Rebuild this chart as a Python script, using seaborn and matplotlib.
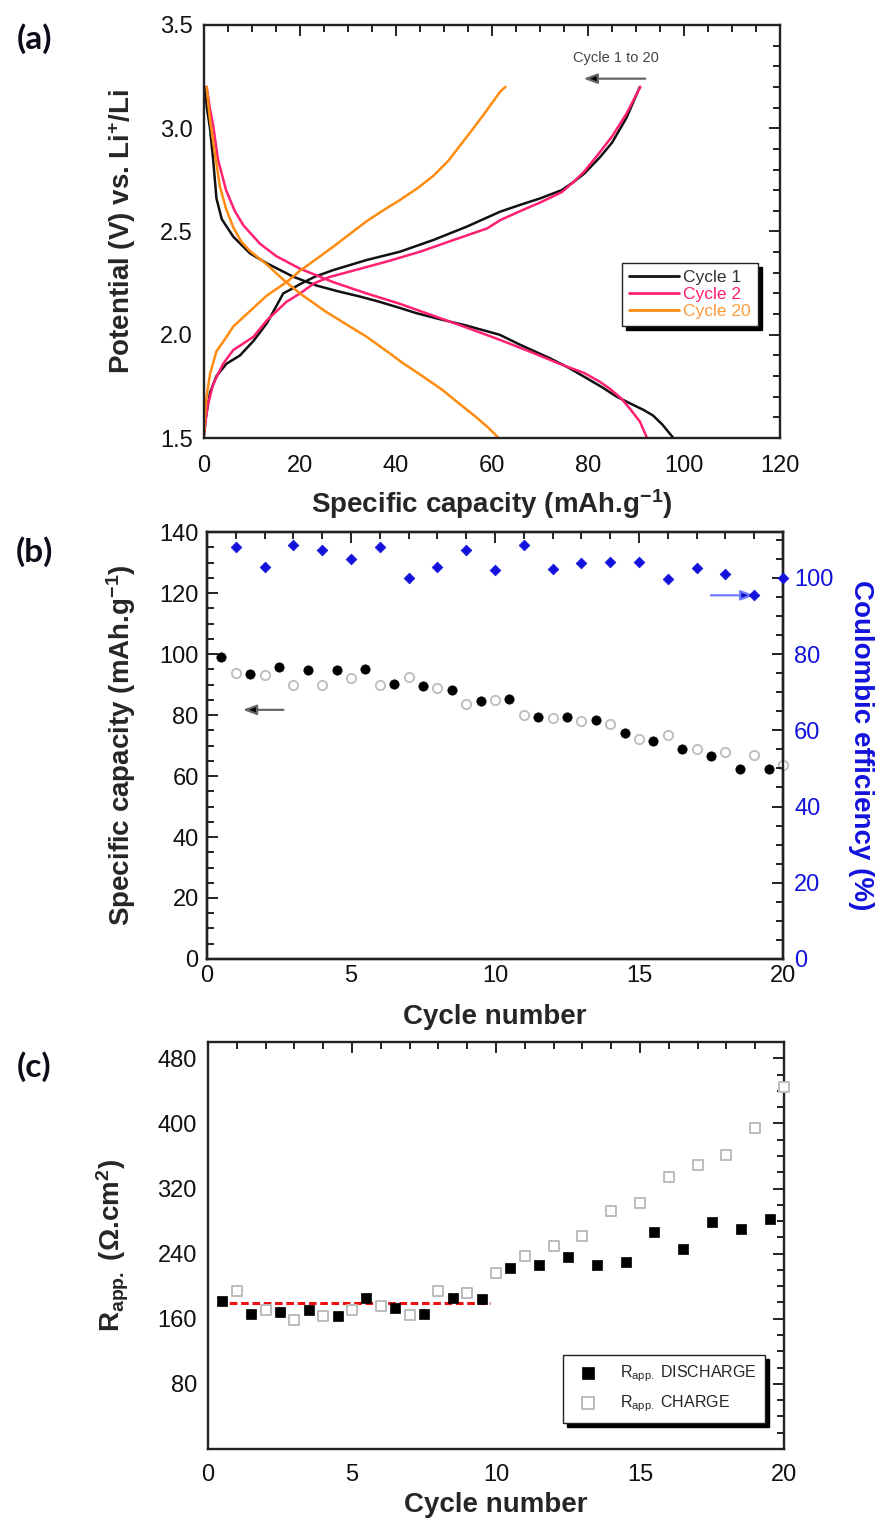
import matplotlib
matplotlib.use("Agg")
import matplotlib.pyplot as plt
from matplotlib.ticker import MultipleLocator
import seaborn as sns

# ===================== (a) charge / discharge curves =====================
c1_dis_cap = [0.2, 0.6, 1.25, 1.9, 2.6, 3.7, 6.1, 9.6, 13.1, 18.6, 23.5, 28.0, 32.5, 36.5, 40.8, 44.2,
              49.2, 54.6, 61.6, 66.0, 72.0, 76.0, 79.7, 83.0, 86.0, 89.0, 91.5, 93.5, 95.5, 97.8]
c1_dis_v = [3.20, 3.10, 3.00, 2.85, 2.66, 2.56, 2.475, 2.394, 2.346, 2.281, 2.238, 2.21, 2.185, 2.16, 2.13, 2.105,
            2.075, 2.045, 2.00, 1.95, 1.887, 1.84, 1.79, 1.745, 1.70, 1.665, 1.637, 1.61, 1.565, 1.50]
c1_chg_cap = [0.0, 0.4, 1.25, 2.6, 4.7, 7.5, 10.3, 13.1, 15.1, 16.5, 18.5, 20.0, 23.0, 26.9, 33.9, 40.8,
              47.8, 54.7, 61.7, 66.0, 70.0, 74.5, 77.0, 79.2, 82.5, 85.0, 88.0, 90.8]
c1_chg_v = [1.51, 1.60, 1.72, 1.80, 1.86, 1.90, 1.97, 2.056, 2.14, 2.20, 2.225, 2.245, 2.28, 2.313, 2.362, 2.402,
            2.459, 2.523, 2.596, 2.63, 2.66, 2.70, 2.74, 2.78, 2.86, 2.93, 3.05, 3.20]

c2_dis_cap = [0.55, 1.2, 1.94, 2.9, 4.6, 6.4, 8.2, 11.7, 15.1, 20.0, 26.9, 33.9, 40.8, 47.8, 54.7, 61.7, 68.8,
              74.0, 79.2, 82.5, 84.7, 87.0, 88.9, 90.8, 92.3]
c2_dis_v = [3.20, 3.10, 3.01, 2.85, 2.70, 2.60, 2.53, 2.44, 2.38, 2.32, 2.255, 2.20, 2.15, 2.092, 2.035, 1.975, 1.91,
            1.86, 1.815, 1.772, 1.736, 1.69, 1.637, 1.58, 1.50]
c2_chg_cap = [0.0, 0.7, 1.9, 4.0, 6.1, 10.3, 13.1, 17.2, 20.0, 23.0, 26.2, 31.0, 38.0, 45.0, 52.0, 59.0,
              61.7, 66.0, 70.0, 74.5, 77.0, 79.2, 82.0, 85.0, 88.0, 90.9]
c2_chg_v = [1.52, 1.65, 1.76, 1.86, 1.926, 1.99, 2.07, 2.16, 2.20, 2.25, 2.28, 2.31, 2.354, 2.402, 2.459, 2.515,
            2.555, 2.60, 2.64, 2.69, 2.74, 2.79, 2.87, 2.96, 3.07, 3.20]

c20_dis_cap = [0.55, 1.2, 1.94, 3.3, 4.6, 6.1, 7.8, 9.6, 13.1, 16.6, 20.0, 25.5, 30.4, 33.9, 38.7, 41.3, 45.5,
               49.6, 53.0, 56.5, 59.0, 61.4]
c20_dis_v = [3.20, 3.05, 2.93, 2.72, 2.61, 2.52, 2.45, 2.405, 2.34, 2.265, 2.20, 2.11, 2.04, 1.99, 1.91, 1.865, 1.80,
             1.734, 1.67, 1.605, 1.555, 1.50]
c20_chg_cap = [0.0, 0.4, 1.25, 2.6, 4.7, 6.1, 10.3, 13.1, 17.2, 20.0, 23.0, 26.9, 30.5, 33.9, 37.5, 40.8,
               44.5, 47.8, 51.0, 53.3, 55.8, 58.2, 61.7, 62.8]
c20_chg_v = [1.52, 1.68, 1.81, 1.92, 1.99, 2.04, 2.13, 2.19, 2.255, 2.31, 2.36, 2.426, 2.49, 2.55, 2.605, 2.652,
             2.71, 2.77, 2.845, 2.915, 2.99, 3.064, 3.177, 3.20]

# ===================== (b) capacity and coulombic efficiency =====================
dis_cycle = [0.5, 1.5, 2.5, 3.5, 4.5, 5.5, 6.5, 7.5, 8.5, 9.5, 10.5, 11.5, 12.5, 13.5, 14.5, 15.5, 16.5, 17.5, 18.5, 19.5]
chg_cycle = [1, 2, 3, 4, 5, 6, 7, 8, 9, 10, 11, 12, 13, 14, 15, 16, 17, 18, 19, 20]

dis_capacity = [99.0, 93.6, 95.9, 94.8, 94.7, 95.1, 90.2, 89.6, 88.2, 84.7, 85.3, 79.2, 79.4, 78.5, 74.0, 71.5,
                69.0, 66.6, 62.2, 62.2]
chg_capacity = [93.8, 93.1, 89.9, 89.9, 92.0, 89.8, 92.4, 88.8, 83.7, 85.0, 79.9, 79.1, 78.0, 77.0, 72.0, 73.3,
                69.0, 68.0, 67.0, 63.5]
coulombic_eff = [108.0, 102.7, 108.7, 107.3, 104.8, 108.0, 100.0, 102.7, 107.3, 102.0, 108.5, 102.3, 104.0, 104.1,
                 104.1, 99.8, 102.5, 101.0, 95.6, 100.0]

# ===================== (c) apparent resistance =====================
r_discharge = [182, 165.7, 168.6, 171, 163, 185.3, 172.7, 165.7, 185.3, 184, 222.9, 225.7, 236.3, 225.7, 229.5,
               267, 245.5, 278.4, 270.6, 282]
r_charge = [194.3, 171, 158.8, 163, 171, 176, 164.5, 194.3, 191.4, 216.7, 237.1, 249.4, 261.6, 292.2, 301.6,
            334.3, 349.4, 361.6, 394.3, 444.1]
r_mean_x = [0.35, 9.8]
r_mean_y = [179, 179]

# ===================== style =====================
sns.set_style("white")
plt.rcParams["font.family"] = ["Liberation Sans", "DejaVu Sans"]
plt.rcParams["mathtext.fontset"] = "custom"
plt.rcParams["mathtext.rm"] = "Liberation Sans"
plt.rcParams["mathtext.bf"] = "Liberation Sans:bold"
plt.rcParams["mathtext.it"] = "Liberation Sans:italic"

BLACK = "#111111"
PINK = "#ff1f73"
ORANGE = "#ff8c10"
BLUE = "#1212dc"
GREY = "#bcbcbc"
TICK = 17
LABEL = 20


def style_axis(ax, xmaj, xmin, ymaj, ymin, right=True):
    ax.xaxis.set_major_locator(MultipleLocator(xmaj))
    ax.xaxis.set_minor_locator(MultipleLocator(xmin))
    ax.yaxis.set_major_locator(MultipleLocator(ymaj))
    ax.yaxis.set_minor_locator(MultipleLocator(ymin))
    ax.tick_params(which="both", direction="in", top=True, right=right, width=1.4,
                   color="#222222", labelcolor="#111111", labelsize=TICK)
    ax.tick_params(which="major", length=8)
    ax.tick_params(which="minor", length=5)
    for s in ax.spines.values():
        s.set_linewidth(1.7)
        s.set_color("#222222")


fig = plt.figure(figsize=(8.8, 15.21), dpi=100)

# ---------- (a) ----------
ax_a = fig.add_axes([0.2318, 0.7120, 0.6546, 0.2716])
curves = [
    (c1_dis_cap, c1_dis_v, c1_chg_cap, c1_chg_v, BLACK, "Cycle 1"),
    (c2_dis_cap, c2_dis_v, c2_chg_cap, c2_chg_v, PINK, "Cycle 2"),
    (c20_dis_cap, c20_dis_v, c20_chg_cap, c20_chg_v, ORANGE, "Cycle 20"),
]
for dcap, dv, ccap, cv, col, lab in curves:
    sns.lineplot(x=dcap, y=dv, sort=False, estimator=None, color=col, lw=1.8, label=lab, ax=ax_a)
    sns.lineplot(x=ccap, y=cv, sort=False, estimator=None, color=col, lw=1.8, ax=ax_a)

ax_a.set_xlim(0, 120)
ax_a.set_ylim(1.5, 3.5)
style_axis(ax_a, 20, 5, 0.5, 0.1)
ax_a.tick_params(axis="x", pad=12)
ax_a.tick_params(axis="y", pad=8)
ax_a.set_xlabel(r"Specific capacity (mAh.g$^{\mathbf{-1}}$)", fontsize=LABEL, fontweight="bold")
ax_a.set_ylabel(r"Potential (V) vs. Li$^{\mathbf{+}}$/Li", fontsize=LABEL, fontweight="bold")
ax_a.xaxis.set_label_coords(0.5, -0.118)
ax_a.xaxis.label.set_va("top")
ax_a.yaxis.set_label_coords(-0.142, 0.5)
ax_a.yaxis.label.set_va("center")

leg_a = ax_a.legend(loc="upper left", bbox_to_anchor=(0.725, 0.423), fontsize=12.5, frameon=True,
                    fancybox=False, edgecolor="#222222", framealpha=1, borderpad=0.4,
                    handlelength=2.9, handletextpad=0.25, labelspacing=0.1, borderaxespad=0,
                    shadow={"color": "black", "alpha": 1, "ox": 3, "oy": -3})
for line in leg_a.get_lines():
    line.set_linewidth(2.0)
for txt, col in zip(leg_a.get_texts(), ["#333333", PINK, "#ff9a3c"]):
    txt.set_color(col)

ax_a.text(85.8, 3.34, "Cycle 1 to 20", fontsize=10.5, color="#444444", ha="center", va="center")
ax_a.annotate("", xy=(78.5, 3.24), xytext=(92.5, 3.24),
              arrowprops=dict(arrowstyle="-|>,head_length=0.8,head_width=0.3", fc="black",
                              ec="#666666", lw=1.6))

# ---------- (b) ----------
ax_b = fig.add_axes([0.2352, 0.3695, 0.6546, 0.2807])
ax_b2 = ax_b.twinx()
sns.scatterplot(x=chg_cycle, y=chg_capacity, marker="o", s=45, facecolor="white", edgecolor=GREY,
                linewidth=1.3, clip_on=False, zorder=3, ax=ax_b)
sns.scatterplot(x=dis_cycle, y=dis_capacity, marker="o", s=45, color="black", edgecolor="black",
                linewidth=0.5, clip_on=False, zorder=4, ax=ax_b)
sns.scatterplot(x=chg_cycle, y=coulombic_eff, marker="D", s=30, color=BLUE, edgecolor=BLUE,
                linewidth=0.5, clip_on=False, zorder=4, ax=ax_b2)

ax_b.set_xlim(0, 20)
ax_b.set_ylim(0, 140)
ax_b2.set_ylim(0, 112)
style_axis(ax_b, 5, 1, 20, 5, right=False)
ax_b2.yaxis.set_major_locator(MultipleLocator(20))
ax_b2.yaxis.set_minor_locator(MultipleLocator(5))
ax_b2.tick_params(axis="y", which="both", direction="in", right=True, width=1.4, color="#222222",
                  labelcolor=BLUE, labelsize=TICK, pad=8)
ax_b2.tick_params(axis="y", which="major", length=8)
ax_b2.tick_params(axis="y", which="minor", length=5)
for s in ax_b2.spines.values():
    s.set_linewidth(1.7)
    s.set_color("#222222")
ax_b.tick_params(axis="x", pad=4)
ax_b.tick_params(axis="y", pad=6)
ax_b.set_xlabel("Cycle number", fontsize=LABEL, fontweight="bold")
ax_b.xaxis.set_label_coords(0.5, -0.105)
ax_b.xaxis.label.set_va("top")
ax_b.set_ylabel(r"Specific capacity (mAh.g$^{\mathbf{-1}}$)", fontsize=LABEL, fontweight="bold")
ax_b.yaxis.set_label_coords(-0.149, 0.5)
ax_b.yaxis.label.set_va("center")
ax_b2.set_ylabel("Coulombic efficiency (%)", fontsize=LABEL, fontweight="bold", color=BLUE,
                 rotation=270)
ax_b2.yaxis.set_label_coords(1.135, 0.5)
ax_b2.yaxis.label.set_va("center")

ax_b.annotate("", xy=(1.15, 81.7), xytext=(2.75, 81.7),
              arrowprops=dict(arrowstyle="-|>,head_length=0.8,head_width=0.3", fc="black",
                              ec="#666666", lw=1.6))
ax_b2.annotate("", xy=(19.1, 95.4), xytext=(17.4, 95.4),
               arrowprops=dict(arrowstyle="-|>,head_length=0.8,head_width=0.3", fc="#1010c8",
                               ec="#6f7cff", lw=1.6))

# ---------- (c) ----------
ax_c = fig.add_axes([0.2364, 0.04734, 0.6546, 0.2676])
sns.lineplot(x=r_mean_x, y=r_mean_y, color="#ee1111", lw=2.2, linestyle=(0, (2.5, 1.2)),
             estimator=None, ax=ax_c, zorder=2)
sns.scatterplot(x=dis_cycle, y=r_discharge, marker="s", s=50, color="black", edgecolor="black",
                linewidth=0.5, clip_on=False, zorder=4, label=r"R$_{\mathrm{app.}}$ DISCHARGE", ax=ax_c)
sns.scatterplot(x=chg_cycle, y=r_charge, marker="s", s=50, facecolor="white", edgecolor=GREY,
                linewidth=1.4, clip_on=False, zorder=3, label=r"R$_{\mathrm{app.}}$ CHARGE", ax=ax_c)
ax_c.set_xlim(0, 20)
ax_c.set_ylim(0, 500)
style_axis(ax_c, 5, 1, 80, 20)
ax_c.set_yticks([80, 160, 240, 320, 400, 480])
ax_c.tick_params(axis="x", pad=11)
ax_c.tick_params(axis="y", pad=8)
ax_c.set_xlabel("Cycle number", fontsize=LABEL, fontweight="bold")
ax_c.xaxis.set_label_coords(0.5, -0.105)
ax_c.xaxis.label.set_va("top")
ax_c.set_ylabel(r"$\mathbf{R_{app.}}$ (Ω.cm$^{\mathbf{2}}$)", fontsize=LABEL, fontweight="bold")
ax_c.yaxis.set_label_coords(-0.165, 0.5)
ax_c.yaxis.label.set_va("center")
ax_c.legend(loc="upper right", bbox_to_anchor=(0.967, 0.231), fontsize=11.5, frameon=True,
            fancybox=False, edgecolor="#222222", framealpha=1, borderpad=0.55, borderaxespad=0,
            handletextpad=1.0, labelspacing=0.55, markerscale=1.3,
            shadow={"color": "black", "alpha": 1, "ox": 3, "oy": -3})

# ---------- panel letters ----------
for lab, ypx in [("(a)", 39), ("(b)", 552), ("(c)", 1067)]:
    fig.text(34 / 880, 1 - ypx / 1521, lab, fontsize=24, fontweight="bold", color="#0d0d1a",
             ha="center", va="center", family=["Lato", "DejaVu Sans"])

fig.savefig("out.png", dpi=100)
